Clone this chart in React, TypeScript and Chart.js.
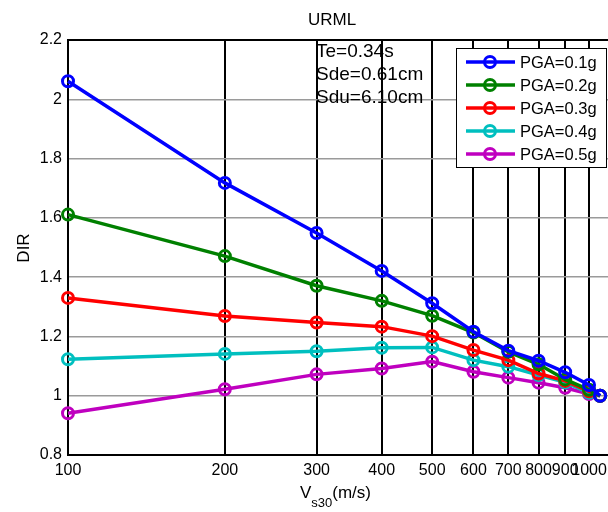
import React, { useEffect, useRef } from "react";
import { Chart, registerables } from "chart.js";

Chart.register(...registerables);

const vs30 = [100, 200, 300, 400, 500, 600, 700, 800, 900, 1000, 1050];
const pga01 = [2.061, 1.718, 1.549, 1.421, 1.312, 1.216, 1.152, 1.118, 1.079, 1.036, 1.0];
const pga02 = [1.611, 1.471, 1.371, 1.32, 1.27, 1.213, 1.148, 1.106, 1.055, 1.02, 1.0];
const pga03 = [1.33, 1.269, 1.247, 1.233, 1.201, 1.154, 1.12, 1.075, 1.05, 1.015, 1.0];
const pga04 = [1.123, 1.141, 1.15, 1.162, 1.163, 1.12, 1.098, 1.07, 1.045, 1.01, 1.0];
const pga05 = [0.941, 1.022, 1.072, 1.092, 1.115, 1.081, 1.061, 1.044, 1.027, 1.006, 1.0];

const seriesLabels = ["PGA=0.1g", "PGA=0.2g", "PGA=0.3g", "PGA=0.4g", "PGA=0.5g"];
const seriesColors = ["#0000ff", "#008000", "#ff0000", "#00bfbf", "#bf00bf"];
const seriesValues = [pga01, pga02, pga03, pga04, pga05];

const xTickValues = [100, 200, 300, 400, 500, 600, 700, 800, 900, 1000];
const titleText = "URML";
const noteLines = ["Te=0.34s", "Sde=0.61cm", "Sdu=6.10cm"];

const FONT = "'Liberation Sans', Arial, sans-serif";

const decorPlugin = {
  id: "decor",
  beforeDatasetsDraw(chart: any) {
    const { ctx, chartArea } = chart;
    ctx.save();
    ctx.strokeStyle = "#000";
    ctx.lineWidth = 2;
    ctx.strokeRect(chartArea.left, chartArea.top, chartArea.right - chartArea.left, chartArea.bottom - chartArea.top);
    ctx.restore();
  },
  afterDraw(chart: any) {
    const { ctx } = chart;
    ctx.save();
    ctx.fillStyle = "#000";
    ctx.font = `17px ${FONT}`;
    ctx.textAlign = "center";
    ctx.textBaseline = "middle";
    ctx.fillText(titleText, 332, 20);
    ctx.font = `19px ${FONT}`;
    ctx.textAlign = "left";
    ctx.textBaseline = "alphabetic";
    noteLines.forEach((t, i) => ctx.fillText(t, 316, 57 + i * 23));
    ctx.save();
    ctx.translate(24, 248);
    ctx.rotate(-Math.PI / 2);
    ctx.font = `17px ${FONT}`;
    ctx.textAlign = "center";
    ctx.textBaseline = "middle";
    ctx.fillText("DIR", 0, 0);
    ctx.restore();
    ctx.textBaseline = "alphabetic";
    ctx.textAlign = "left";
    let x = 300;
    ctx.font = `17px ${FONT}`;
    ctx.fillText("V", x, 498);
    x += ctx.measureText("V").width;
    ctx.font = `13px ${FONT}`;
    ctx.fillText("s30", x, 507);
    x += ctx.measureText("s30").width;
    ctx.font = `17px ${FONT}`;
    ctx.fillText("(m/s)", x, 498);
    const lx = 456, ly = 48, lw = 150, lh = 119;
    ctx.fillStyle = "#fff";
    ctx.fillRect(lx, ly, lw, lh);
    ctx.strokeStyle = "#000";
    ctx.lineWidth = 1;
    ctx.strokeRect(lx + 0.5, ly + 0.5, lw, lh);
    chart.data.datasets.forEach((ds: any, i: number) => {
      const yy = 62 + i * 23;
      ctx.strokeStyle = ds.borderColor;
      ctx.lineWidth = 3.5;
      ctx.beginPath();
      ctx.moveTo(466, yy);
      ctx.lineTo(515, yy);
      ctx.stroke();
      ctx.lineWidth = 3;
      ctx.beginPath();
      ctx.arc(490, yy, 5.5, 0, Math.PI * 2);
      ctx.stroke();
      ctx.fillStyle = "#000";
      ctx.font = `16.5px ${FONT}`;
      ctx.textBaseline = "middle";
      ctx.fillText(ds.label, 520, yy + 1);
    });
    ctx.restore();
  },
};

export default function App() {
  const ref = useRef<HTMLCanvasElement | null>(null);
  useEffect(() => {
    if (!ref.current) return;
    const chart = new Chart(ref.current, {
      type: "line",
      data: {
        datasets: seriesValues.map((vals, i) => ({
          label: seriesLabels[i],
          data: vals.map((v, j) => ({ x: vs30[j], y: v })),
          borderColor: seriesColors[i],
          backgroundColor: seriesColors[i],
          borderWidth: 3.5,
          pointRadius: 5.5,
          pointBorderWidth: 3,
          pointBackgroundColor: "rgba(0,0,0,0)",
          pointBorderColor: seriesColors[i],
          clip: false as any,
          tension: 0,
        })),
      },
      options: {
        animation: false,
        responsive: false,
        devicePixelRatio: 1,
        events: [],
        layout: { padding: { left: 0, top: 40, right: 9.4, bottom: 0 } },
        plugins: { legend: { display: false }, tooltip: { enabled: false }, title: { display: false } },
        scales: {
          x: {
            type: "logarithmic",
            min: 100,
            max: 1100,
            afterBuildTicks: (scale: any) => {
              scale.ticks = xTickValues.map((v) => ({ value: v }));
            },
            afterFit: (scale: any) => {
              scale.height = 57;
            },
            ticks: {
              autoSkip: false,
              maxRotation: 0,
              minRotation: 0,
              padding: 6,
              color: "#000",
              font: { family: FONT, size: 16 },
              callback: (v: any) => String(v),
            },
            grid: {
              drawTicks: false,
              color: (c: any) => (c.tick && c.tick.value === 100 ? "rgba(0,0,0,0)" : "#000"),
              lineWidth: 2,
            },
            border: { display: false },
          },
          y: {
            type: "linear",
            min: 0.8,
            max: 2.2,
            afterFit: (scale: any) => {
              scale.width = 68;
            },
            ticks: {
              stepSize: 0.2,
              padding: 6,
              color: "#000",
              font: { family: FONT, size: 16 },
              callback: (v: any) => String(Math.round(Number(v) * 10) / 10),
            },
            grid: {
              drawTicks: false,
              color: (c: any) =>
                c.tick && (Math.abs(c.tick.value - 0.8) < 1e-6 || Math.abs(c.tick.value - 2.2) < 1e-6)
                  ? "rgba(0,0,0,0)"
                  : "#9a9a9a",
              lineWidth: 1.5,
            },
            border: { display: false },
          },
        },
      },
      plugins: [decorPlugin],
    } as any);
    return () => chart.destroy();
  }, []);
  return (
    <div style={{ position: "fixed", left: 0, top: 0, width: 608, height: 512, overflow: "hidden", background: "#fff" }}>
      <canvas ref={ref} width={620} height={512} style={{ display: "block", width: 620, height: 512 }} />
    </div>
  );
}
